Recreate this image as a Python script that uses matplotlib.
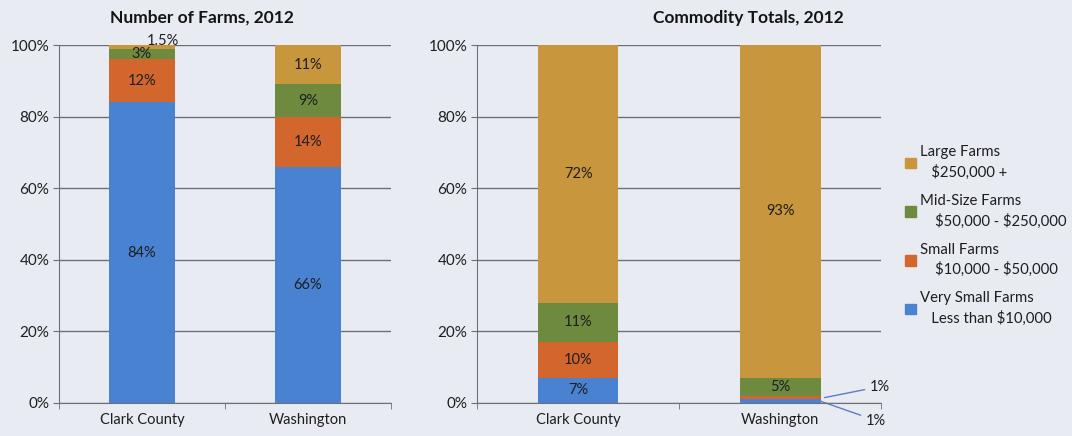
import numpy as np
import matplotlib.pyplot as plt
from matplotlib.patches import Patch

plt.rcParams['font.family'] = ['Lato', 'DejaVu Sans']

places = ["Clark County", "Washington"]
classes = ["Very Small Farms", "Small Farms", "Mid-Size Farms", "Large Farms"]
legend_text = ["Very Small Farms\n   Less than \\$10,000",
               "Small Farms\n    \\$10,000 - \\$50,000",
               "Mid-Size Farms\n    \\$50,000 - \\$250,000",
               "Large Farms\n   \\$250,000 +"]

# percent of farms by size class (Clark County, Washington)
farms_very_small = [84, 66]
farms_small = [12, 14]
farms_mid = [3, 9]
farms_large = [1.5, 11]

# percent of commodity totals by size class
sales_very_small = [7, 1]
sales_small = [10, 1]
sales_mid = [11, 5]
sales_large = [72, 93]

colors = ["#4a82d2", "#d2662c", "#6e8a3e", "#c8963c"]
bg = "#e8ecf2"
grid_c = "#6e6e76"
text_c = "#1e1e1e"
lab_fs = 10.5


def draw_panel(ax, series, width=0.4):
    x = np.arange(len(places))
    bottom = np.zeros(len(places))
    for vals, col in zip(series, colors):
        vals = np.array(vals, dtype=float)
        ax.bar(x, vals, width, bottom=bottom, color=col, zorder=3)
        for i, v in enumerate(vals):
            mid = bottom[i] + v / 2
            if v >= 3:
                ax.text(x[i], mid, "%g%%" % v, ha="center", va="center",
                        fontsize=lab_fs, color=text_c, zorder=4)
        bottom += vals
    ax.set_ylim(0, 100)
    ax.set_xlim(-0.5, len(places) - 0.5)
    ax.set_yticks(np.arange(0, 101, 20))
    ax.set_yticklabels(["%d%%" % t for t in range(0, 101, 20)])
    ax.set_xticks(x)
    ax.set_xticklabels(places)
    ax.set_xticks(np.arange(-0.5, len(places), 1), minor=True)
    ax.tick_params(axis="x", which="major", length=0, pad=7, labelsize=10.5, colors=text_c)
    ax.tick_params(axis="x", which="minor", length=4, color=grid_c, direction="out")
    ax.tick_params(axis="y", length=4, color=grid_c, labelsize=11, colors=text_c, pad=3)
    ax.grid(axis="y", color=grid_c, lw=1, zorder=0)
    ax.set_facecolor(bg)
    for s in ["top", "right"]:
        ax.spines[s].set_visible(False)
    for s in ["left", "bottom"]:
        ax.spines[s].set_color(grid_c)
        ax.spines[s].set_zorder(5)


fig = plt.figure(figsize=(10.72, 4.36), dpi=100, facecolor=bg)
ax1 = fig.add_axes([0.055, 0.0757, 0.3097, 0.821])
ax2 = fig.add_axes([0.445, 0.0757, 0.377, 0.821])

draw_panel(ax1, [farms_very_small, farms_small, farms_mid, farms_large])
draw_panel(ax2, [sales_very_small, sales_small, sales_mid, sales_large])

# small labels that do not fit inside the bars
ax1.annotate("%g%%" % farms_large[0], xy=(0, 100), xytext=(15, 3),
             textcoords="offset points", ha="center", va="center",
             fontsize=lab_fs, color=text_c, zorder=6, annotation_clip=False)
ax2.annotate("%g%%" % sales_small[1], xy=(1.22, sales_very_small[1] + sales_small[1] / 2),
             xytext=(40, 8), textcoords="offset points", ha="center", va="center",
             fontsize=lab_fs, color=text_c, annotation_clip=False,
             arrowprops=dict(arrowstyle="-", color="#5f7cc4", lw=1, shrinkA=2, shrinkB=0))
ax2.annotate("%g%%" % sales_very_small[1], xy=(1.2, sales_very_small[1] / 2),
             xytext=(40, -14), textcoords="offset points", ha="center", va="center",
             fontsize=lab_fs, color=text_c, annotation_clip=False,
             arrowprops=dict(arrowstyle="-", color="#5f7cc4", lw=1, shrinkA=2, shrinkB=0))

fig.text(202 / 1072, 1 - 18 / 436, "Number of Farms, 2012", ha="center", va="center",
         fontsize=12.5, fontweight="bold", color="#141414")
fig.text(748 / 1072, 1 - 18 / 436, "Commodity Totals, 2012", ha="center", va="center",
         fontsize=12.5, fontweight="bold", color="#141414")

handles = [Patch(color=c) for c in colors][::-1]
leg = fig.legend(handles, legend_text[::-1], loc="upper left",
                 bbox_to_anchor=(892 / 1072, 1 - 132 / 436), frameon=False,
                 fontsize=10.7, handlelength=0.7, handleheight=0.7, handletextpad=0.3,
                 labelspacing=0.95, labelcolor=text_c)
for t in leg.get_texts():
    t.set_linespacing(1.45)

fig.savefig("out.png", dpi=100, facecolor=bg)
